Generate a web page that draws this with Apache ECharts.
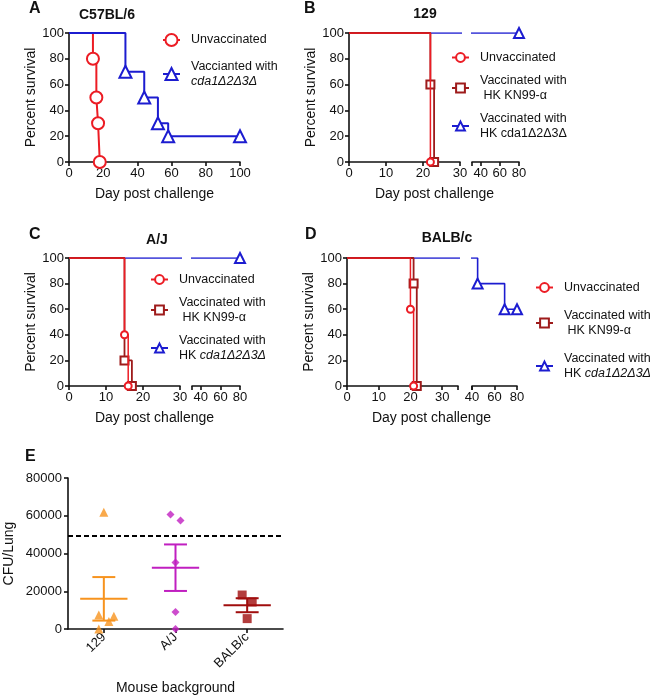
<!DOCTYPE html>
<html><head><meta charset="utf-8">
<script src="https://cdn.jsdelivr.net/npm/echarts@6/dist/echarts.min.js"></script>
<style>html,body{margin:0;padding:0;background:#fff}#c{width:650px;height:698px}</style>
</head><body><div id="c"></div>
<script>
// ---------- DATA ----------
// Panel A (C57BL/6): Kaplan-Meier steps [day, % survival]
const A_unvac = [[0,100],[14,80],[16,50],[17,30],[18,0]];
const A_vac   = [[0,100],[33,70],[44,50],[52,30],[58,20],[100,20]];
// Panel B (129)
const B_unvac = [[0,100],[22,0]];
const B_kn99  = [[0,100],[22,60],[23,0]];
const B_cda   = [[0,100],[80,100]];
// Panel C (A/J)
const C_unvac = [[0,100],[15,40],[16,0]];
const C_kn99  = [[0,100],[15,20],[17,0]];
const C_cda   = [[0,100],[80,100]];
// Panel D (BALB/c)
const D_unvac = [[0,100],[20,60],[21,0]];
const D_kn99  = [[0,100],[21,80],[22,0]];
const D_cda   = [[0,100],[45,80],[69,60],[80,60]];
const brokenLeftLabels = [0,10,20,30];
const brokenRightLabels = [40,60,80];

// Panel E: CFU per lung
const E_categories = ['129','A/J','BALB/c'];
const E_129  = [61800, 7400, 4000, 6700, 0];
const E_AJ   = [60700, 57500, 35200, 9000, 0];
const E_BALB = [18000, 14300, 5500];
const E_jit129  = [0, -0.07, 0.07, 0.14, -0.07];
const E_jitAJ   = [-0.07, 0.07, 0, 0, 0];
const E_jitBALB = [-0.07, 0.07, 0];
const E_threshold = 49500;

// ---------- STYLE ----------
const FONT = '"Liberation Sans", Arial, sans-serif';
const INK = '#111';
const RED = '#ec1c24', DRED = '#9e1b1b', BLUE = '#1c1cd0';
const ORANGE = '#f7931e', MAGENTA = '#c01fc0', EDRED = '#a00d0d';

const axLine = {onZero:false, lineStyle:{color:INK, width:1.6}};
const axTick = {show:true, length:4, inside:false, lineStyle:{color:INK, width:1.6}};
const axLabel = {color:INK, fontSize:13, fontFamily:FONT, margin:5};
const nameStyle = {color:INK, fontSize:14, fontFamily:FONT};

const grids = [
  {left:69,  top:33,  width:171, height:129}, // 0 A
  {left:349, top:33,  width:111, height:129}, // 1 B left
  {left:472, top:33,  width:47,  height:129}, // 2 B right
  {left:69,  top:258, width:111, height:128}, // 3 C left
  {left:192, top:258, width:48,  height:128}, // 4 C right
  {left:347, top:258, width:111, height:128}, // 5 D left
  {left:472, top:258, width:45,  height:128}, // 6 D right
  {left:68,  top:478, width:215, height:151}  // 7 E
];

function xVal(g, min, max, extra) {
  return Object.assign({type:'value', gridIndex:g, position:'bottom', min, max,
    axisLine:axLine, axisTick:axTick, axisLabel:axLabel, splitLine:{show:false},
    nameTextStyle:nameStyle}, extra||{});
}
function xRight(g, min) {
  return xVal(g, min, 80, {
    axisLabel:Object.assign({}, axLabel, {customValues:brokenRightLabels}),
    axisTick:Object.assign({}, axTick, {customValues:[min].concat(brokenRightLabels)})
  });
}
function xLeft(g, max, pad) {
  return xVal(g, 0, max, {
    name:'Day post challenge', nameLocation:'middle', nameGap:25,
    nameTextStyle:Object.assign({}, nameStyle, {padding:[0,0,0,pad]}),
    axisLabel:Object.assign({}, axLabel, {customValues:brokenLeftLabels}),
    axisTick:Object.assign({}, axTick, {customValues:brokenLeftLabels.concat(max > 30 ? [max] : [])})
  });
}
const xAxes = [
  xVal(0, 0, 100, {interval:20, name:'Day post challenge', nameLocation:'middle', nameGap:25}),
  xLeft(1, 30, 60),
  xRight(2, 31),
  xLeft(3, 30, 60),
  xRight(4, 31),
  xLeft(5, 35, 58),
  xRight(6, 40),
  {type:'category', gridIndex:7, position:'bottom', data:E_categories,
   axisLine:axLine, axisTick:Object.assign({}, axTick, {alignWithLabel:true}),
   axisLabel:Object.assign({}, axLabel, {rotate:45, margin:6}),
   name:'Mouse background', nameLocation:'middle', nameGap:52, nameTextStyle:nameStyle},
  {type:'value', gridIndex:7, min:-0.5, max:2.5, show:false}
];
function ySurv(g, show) {
  return {type:'value', gridIndex:g, min:0, max:100, interval:20, show,
    axisLine:axLine, axisTick:axTick, axisLabel:axLabel, splitLine:{show:false},
    name:'Percent survival', nameLocation:'middle', nameGap:30, nameTextStyle:nameStyle};
}
const yAxes = [ySurv(0,true), ySurv(1,true), ySurv(2,false), ySurv(3,true), ySurv(4,false),
  ySurv(5,true), ySurv(6,false),
  {type:'value', gridIndex:7, min:0, max:80000, interval:20000, position:'left',
   axisLine:Object.assign({show:true}, axLine), axisTick:axTick,
   axisLabel:Object.assign({}, axLabel, {margin:6, formatter:v=>String(v)}), splitLine:{show:false},
   name:'CFU/Lung', nameLocation:'middle', nameGap:52, nameTextStyle:nameStyle}];

function km(name, data, ax, color, symbol, size, lw, z) {
  return {type:'line', name, xAxisIndex:ax, yAxisIndex:ax, step:'end', clip:true,
    data: data.map((p,i)=> i===0 ? {value:p, symbol:'none'} : {value:p}),
    symbol, symbolSize:size, showSymbol:true, showAllSymbol:true,
    color, lineStyle:{color, width:lw}, itemStyle:{color, borderColor:color, borderWidth:lw},
    z, animation:false, emphasis:{disabled:true}, silent:true};
}

const series = [
  km('A_unvac', A_unvac, 0, RED, 'emptyCircle', 12, 2, 2),
  km('A_vac', A_vac, 0, BLUE, 'emptyTriangle', 12, 2, 3)
];
[[1,2,B_unvac,B_kn99,B_cda,'B'],[3,4,C_unvac,C_kn99,C_cda,'C'],[5,6,D_unvac,D_kn99,D_cda,'D']].forEach(([l,r,u,k,c,p])=>{
  [l,r].forEach(ax=>{
    series.push(km(p+'_cda', c, ax, BLUE, 'emptyTriangle', 10, 1.6, 2));
    series.push(km(p+'_kn99', k, ax, DRED, 'emptyRect', 8, 1.8, 3));
    series.push(km(p+'_unvac', u, ax, RED, 'emptyCircle', 7, 1.5, 4));
  });
});

// Panel E
function mean(a){return a.reduce((s,v)=>s+v,0)/a.length;}
function sem(a){const m=mean(a);return Math.sqrt(a.reduce((s,v)=>s+(v-m)*(v-m),0)/(a.length-1))/Math.sqrt(a.length);}
const E_groups = [E_129, E_AJ, E_BALB];
const E_jits = [E_jit129, E_jitAJ, E_jitBALB];
const E_colors = [ORANGE, MAGENTA, EDRED];
const E_symbols = ['triangle','diamond','rect'];
const E_sizes = [9, 8, 9];
E_groups.forEach((g,i)=>{
  series.push({type:'scatter', xAxisIndex:8, yAxisIndex:7, symbol:E_symbols[i], symbolSize:E_sizes[i],
    itemStyle:{color:E_colors[i]}, data:g.map((v,j)=>[i+E_jits[i][j], v]), z:3, silent:true, animation:false,
    markLine: i===0 ? {symbol:'none', silent:true, label:{show:false}, animation:false,
      lineStyle:{type:[5,3], color:'#000', width:2}, data:[{yAxis:E_threshold}]} : undefined});
});
const E_stats = E_groups.map((g,i)=>{const m=mean(g), s=sem(g); return [i, m, m-s, m+s];});
series.push({type:'custom', xAxisIndex:8, yAxisIndex:7, data:E_stats, z:4, silent:true, animation:false,
  renderItem(params, api){
    const x=api.value(0), m=api.value(1), lo=api.value(2), hi=api.value(3);
    const pm=api.coord([x,m]), pl=api.coord([x,lo]), ph=api.coord([x,hi]);
    const hw=api.size([0.33,0])[0], cw=api.size([0.16,0])[0];
    const st={stroke:E_colors[params.dataIndex], lineWidth:2};
    return {type:'group', children:[
      {type:'line', shape:{x1:pm[0]-hw,y1:pm[1],x2:pm[0]+hw,y2:pm[1]}, style:st},
      {type:'line', shape:{x1:pl[0],y1:pl[1],x2:ph[0],y2:ph[1]}, style:st},
      {type:'line', shape:{x1:pl[0]-cw,y1:pl[1],x2:pl[0]+cw,y2:pl[1]}, style:st},
      {type:'line', shape:{x1:ph[0]-cw,y1:ph[1],x2:ph[0]+cw,y2:ph[1]}, style:st}
    ]};
  }});

// Legends
const cda = 'cda1\u03942\u03943\u0394';
const legendText = {
  A_unvac:'{t|Unvaccinated}', A_vac:'{t|Vaccianted with}\n{i|'+cda+'}',
  B_unvac:'{t|Unvaccinated}', B_kn99:'{t|Vaccinated with}\n{t| HK KN99-\u03b1}', B_cda:'{t|Vaccinated with}\n{t|HK '+cda+'}',
  C_unvac:'{t|Unvaccinated}', C_kn99:'{t|Vaccinated with}\n{t| HK KN99-\u03b1}', C_cda:'{t|Vaccinated with}\n{t|HK }{i|'+cda+'}',
  D_unvac:'{t|Unvaccinated}', D_kn99:'{t|Vaccinated with}\n{t| HK KN99-\u03b1}', D_cda:'{t|Vaccinated with}\n{t|HK }{i|'+cda+'}'
};
function leg(data, left, top, gap, ih) {
  return {orient:'vertical', left, top, itemGap:gap, itemWidth:17, itemHeight:ih, padding:0,
    selectedMode:false, data, formatter:n=>legendText[n],
    textStyle:{padding:[0,0,0,6], rich:{
      t:{fontSize:12.5, fontFamily:FONT, color:INK, lineHeight:15},
      i:{fontSize:12.5, fontFamily:FONT, color:INK, lineHeight:15, fontStyle:'italic'}}}};
}
const legends = [
  leg(['A_unvac','A_vac'], 162, 33, 13, 15),
  leg(['B_unvac','B_kn99','B_cda'], 451, 51, 10, 11),
  leg(['C_unvac','C_kn99','C_cda'], 150, 273, 10, 11),
  leg(['D_unvac','D_kn99','D_cda'], 535, 281, 15, 11)
];

function ttl(text, left, top, size, center) {
  const o = {text, left, top, padding:0, textStyle:{fontSize:size, fontWeight:'bold', color:INK, fontFamily:FONT}};
  if (center) o.textAlign = 'center';
  return o;
}
const titles = [
  ttl('A', 29, 1, 16), ttl('B', 304, 1, 16), ttl('C', 29, 227, 16), ttl('D', 305, 227, 16), ttl('E', 25, 449, 16),
  ttl('C57BL/6', 107, 8, 14, true), ttl('129', 425, 7, 14, true), ttl('A/J', 157, 233, 14, true), ttl('BALB/c', 447, 231, 14, true)
];

const chart = echarts.init(document.getElementById('c'), null, {renderer:'canvas'});
chart.setOption({backgroundColor:'#fff', animation:false, textStyle:{fontFamily:FONT},
  title:titles, legend:legends, grid:grids, xAxis:xAxes, yAxis:yAxes, series});
</script></body></html>
